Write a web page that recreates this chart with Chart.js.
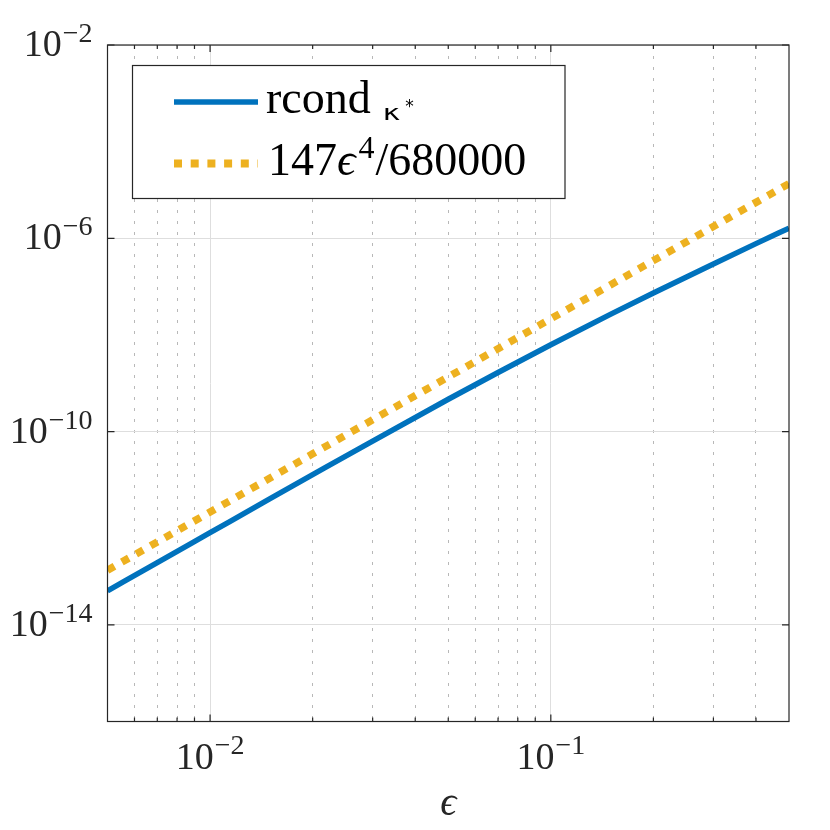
<!DOCTYPE html>
<html>
<head>
<meta charset="utf-8">
<script src="https://cdn.jsdelivr.net/npm/chart.js@4"></script>
<style>
html,body{margin:0;padding:0;background:#fff;}
#wrap{width:830px;height:830px;position:relative;}
</style>
</head>
<body>
<div id="wrap"><canvas id="c"></canvas></div>
<script>
// ---- data ----
const epsValues = [0.005, 0.007, 0.01, 0.015, 0.02, 0.03, 0.05, 0.07, 0.1, 0.15, 0.2, 0.3, 0.4, 0.5];
const rcondValues = [5.05e-14, 1.94e-13, 8.07e-13, 4.08e-12, 1.28e-11, 6.37e-11, 4.67e-10, 1.67e-9, 6.27e-9, 2.70e-8, 7.38e-8, 2.95e-7, 7.76e-7, 1.62e-6];
const boundValues = [1.351e-13, 5.19e-13, 2.162e-12, 1.094e-11, 3.459e-11, 1.751e-10, 1.351e-9, 5.19e-9, 2.162e-8, 1.094e-7, 3.459e-7, 1.751e-6, 5.534e-6, 1.351e-5];
const seriesLabels = ['rcond κ*', '147ϵ⁴/680000'];
const xMajorTicks = [0.01, 0.1];
const xMinorTicks = [0.006, 0.007, 0.008, 0.009, 0.02, 0.03, 0.04, 0.05, 0.06, 0.07, 0.08, 0.09, 0.2, 0.3, 0.4];
const xTickExps = ['−2', '−1'];
const yMajorTicks = [1e-14, 1e-10, 1e-6, 1e-2];
const yTickExps = ['−14', '−10', '−6', '−2'];
const xTitle = 'ϵ';

const BLUE = '#0072BD', YELLOW = '#EDB120', AX = '#262626';
const SERIF = '"Liberation Serif", "DejaVu Serif", serif';

function pts(xs, ys){ return xs.map((x,i)=>({x:x, y:ys[i]})); }

function drawPow(ctx, exp, x, y, align, mainSize, supSize, supRise){
  ctx.save();
  ctx.fillStyle = AX;
  ctx.textBaseline = 'alphabetic';
  ctx.textAlign = 'left';
  const fMain = mainSize + 'px ' + SERIF, fSup = supSize + 'px ' + SERIF;
  ctx.font = fMain; const w1 = ctx.measureText('10').width;
  ctx.font = fSup; const w2 = ctx.measureText(exp).width;
  const total = w1 + 1 + w2;
  let x0 = align === 'right' ? x - total : (align === 'center' ? x - total/2 : x);
  ctx.font = fMain; ctx.fillText('10', x0, y);
  ctx.font = fSup; ctx.fillText(exp, x0 + w1 + 1, y - supRise);
  ctx.restore();
}

const decor = {
  id: 'decor',
  afterDatasetsDraw(chart){
    const ctx = chart.ctx, a = chart.chartArea;
    const xs = chart.scales.x, ys = chart.scales.y;
    ctx.save();
    // axes box
    ctx.strokeStyle = AX; ctx.lineWidth = 1.2;
    ctx.strokeRect(a.left, a.top, a.right - a.left, a.bottom - a.top);
    // ticks
    ctx.beginPath();
    xMajorTicks.forEach(v=>{ const p = xs.getPixelForValue(v);
      ctx.moveTo(p, a.bottom); ctx.lineTo(p, a.bottom - 7);
      ctx.moveTo(p, a.top); ctx.lineTo(p, a.top + 7); });
    xMinorTicks.forEach(v=>{ const p = xs.getPixelForValue(v);
      ctx.moveTo(p, a.bottom); ctx.lineTo(p, a.bottom - 4);
      ctx.moveTo(p, a.top); ctx.lineTo(p, a.top + 4); });
    yMajorTicks.forEach(v=>{ const p = ys.getPixelForValue(v);
      ctx.moveTo(a.left, p); ctx.lineTo(a.left + 7, p);
      ctx.moveTo(a.right, p); ctx.lineTo(a.right - 7, p); });
    ctx.stroke();
    // tick labels
    xMajorTicks.forEach((v,i)=>{ drawPow(ctx, xTickExps[i], xs.getPixelForValue(v), a.bottom + 47.5, 'center', 38, 28, 15); });
    yMajorTicks.forEach((v,i)=>{ drawPow(ctx, yTickExps[i], a.left - 15, ys.getPixelForValue(v) + 11, 'right', 38, 28, 14); });
    // axis title
    ctx.fillStyle = AX;
    ctx.font = 'italic 40px ' + SERIF;
    ctx.textAlign = 'center'; ctx.textBaseline = 'alphabetic';
    ctx.fillText(xTitle, (a.left + a.right)/2, 815);
    // legend
    const lx = a.left + 25, ly = a.top + 20.5, lw = 432.5, lh = 133;
    ctx.fillStyle = '#fff'; ctx.fillRect(lx, ly, lw, lh);
    ctx.strokeStyle = AX; ctx.lineWidth = 1.2; ctx.strokeRect(lx, ly, lw, lh);
    const ds = chart.data.datasets;
    // sample 1
    ctx.strokeStyle = ds[0].borderColor; ctx.lineWidth = 5.5; ctx.setLineDash([]);
    ctx.beginPath(); ctx.moveTo(lx + 41.5, ly + 36.5); ctx.lineTo(lx + 125.5, ly + 36.5); ctx.stroke();
    // sample 2
    ctx.strokeStyle = ds[1].borderColor; ctx.lineWidth = 8; ctx.setLineDash([8, 8.7]);
    ctx.beginPath(); ctx.moveTo(lx + 41.5, ly + 98); ctx.lineTo(lx + 125.5, ly + 98); ctx.stroke();
    ctx.setLineDash([]);
    // text 1
    const tx = lx + 133.5;
    ctx.fillStyle = '#000'; ctx.textAlign = 'left';
    ctx.font = '46px ' + SERIF;
    const parts1 = seriesLabels[0].split(' ');
    ctx.fillText(parts1[0], tx, ly + 47.5);
    let w = ctx.measureText(parts1[0]).width;
    ctx.save();
    ctx.translate(tx + w + 12, ly + 54);
    ctx.scale(1.35, 1);
    ctx.font = '22px "DejaVu Sans", sans-serif';
    ctx.fillText(parts1[1].charAt(0), 0, 0);
    const wk = ctx.measureText(parts1[1].charAt(0)).width * 1.35;
    ctx.restore();
    ctx.font = '17px "DejaVu Sans", sans-serif';
    ctx.fillText(parts1[1].charAt(1), tx + w + 12 + wk + 5, ly + 46);
    // text 2 : 147 ϵ ^4 /680000
    let cx = tx + 2;
    const by = ly + 109.5;
    ctx.font = '46px ' + SERIF;
    ctx.fillText('147', cx, by); cx += ctx.measureText('147').width;
    ctx.font = 'italic 46px ' + SERIF;
    ctx.fillText('ϵ', cx, by); cx += ctx.measureText('ϵ').width + 3;
    ctx.font = '32px ' + SERIF;
    ctx.fillText('4', cx, by - 17); cx += ctx.measureText('4').width + 1;
    ctx.font = '46px ' + SERIF;
    ctx.fillText('/680000', cx, by);
    ctx.restore();
  }
};

new Chart(document.getElementById('c'), {
  type: 'line',
  data: {
    datasets: [
      { label: seriesLabels[0], data: pts(epsValues, rcondValues), borderColor: BLUE, borderWidth: 5.5, pointRadius: 0, cubicInterpolationMode: 'monotone', fill: false },
      { label: seriesLabels[1], data: pts(epsValues, boundValues), borderColor: YELLOW, borderWidth: 7.5, borderDash: [8, 8.5], borderCapStyle: 'butt', pointRadius: 0, tension: 0, fill: false }
    ]
  },
  options: {
    responsive: true,
    maintainAspectRatio: false,
    animation: false,
    devicePixelRatio: 1,
    layout: { padding: { top: 45, right: 41, left: 0, bottom: 0 } },
    plugins: { legend: { display: false }, tooltip: { enabled: false } },
    scales: {
      x: {
        type: 'logarithmic', position: 'bottom', min: 0.005, max: 0.5,
        afterBuildTicks(s){ s.ticks = xMajorTicks.concat(xMinorTicks).sort((p,q)=>p-q).map(v=>({value:v})); },
        afterFit(s){ s.height = 108.5; },
        ticks: { display: false },
        grid: {
          drawTicks: false,
          lineWidth: 1,
          color: (c)=> (c.tick && xMajorTicks.includes(c.tick.value)) ? '#dedede' : '#b8b8b8'
        },
        border: { display: false, dash: (c)=> (c.tick && xMajorTicks.includes(c.tick.value)) ? [] : [3, 8] }
      },
      y: {
        type: 'logarithmic', position: 'left', min: 1e-16, max: 1e-2,
        afterBuildTicks(s){ s.ticks = yMajorTicks.map(v=>({value:v})); },
        afterFit(s){ s.width = 107.5; },
        ticks: { display: false },
        grid: { drawTicks: false, lineWidth: 1, color: '#dedede' },
        border: { display: false }
      }
    }
  },
  plugins: [decor]
});
</script>
</body>
</html>
